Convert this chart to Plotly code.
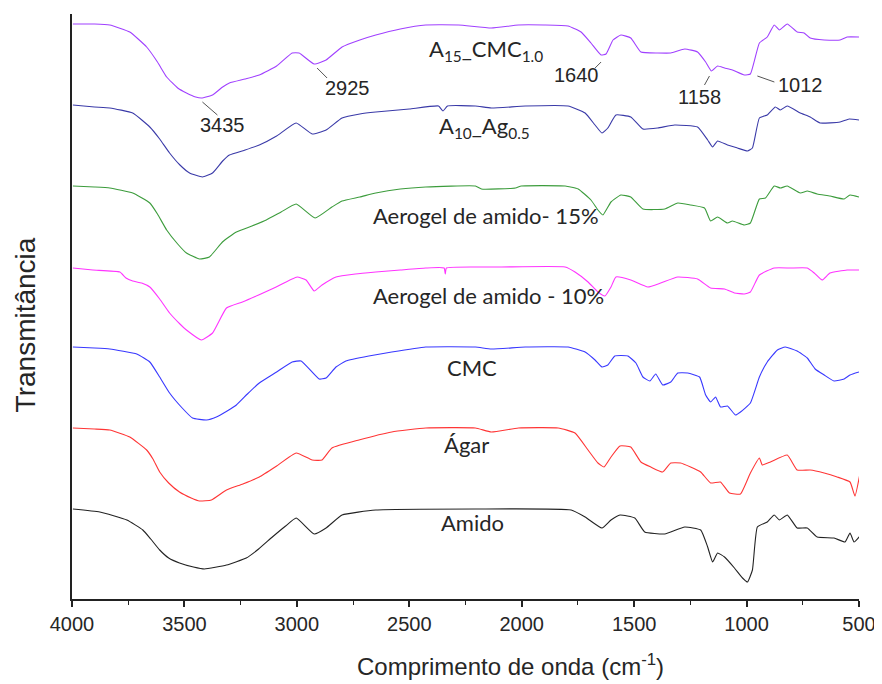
import plotly.graph_objects as go

# ---- data (wavenumber cm-1, stacked transmittance in arbitrary units) ----
a15_wn = [3996, 3900, 3832, 3743, 3668, 3620, 3579, 3530, 3491, 3450, 3424, 3375, 3330, 3300, 3230, 3167, 3090, 3021, 2990, 2923, 2870, 2799, 2720, 2649, 2540, 2427, 2281, 2135, 2015, 1900, 1794, 1736, 1692, 1647, 1625, 1594, 1559, 1515, 1470, 1395, 1337, 1275, 1218, 1182, 1156, 1129, 1098, 1063, 1010, 983, 943, 908, 877, 854, 819, 775, 744, 717, 655, 584, 553, 500]
a15_t = [575, 575, 574, 567, 552, 537, 522, 511, 506, 502, 501, 504, 512, 516, 520, 524, 533, 546, 546, 535, 539, 552, 559, 564, 570, 574, 574, 571, 574, 574, 573, 567, 556, 544, 545, 559, 564, 561, 547, 546, 546, 550, 547, 537, 528, 533, 531, 529, 524, 525, 556, 562, 574, 569, 575, 567, 566, 561, 559, 559, 562, 562]

a10_wn = [3996, 3900, 3832, 3730, 3654, 3610, 3566, 3520, 3477, 3420, 3375, 3330, 3300, 3230, 3167, 3090, 3003, 2932, 2870, 2799, 2720, 2649, 2500, 2370, 2350, 2330, 2206, 2135, 1984, 1794, 1718, 1674, 1643, 1617, 1581, 1515, 1461, 1395, 1320, 1218, 1173, 1151, 1129, 1085, 1041, 996, 974, 943, 908, 872, 850, 819, 761, 717, 673, 584, 544, 500]
a10_t = [494, 492, 491, 486, 472, 460, 446, 434, 426, 422, 426, 438, 444, 449, 454, 463, 476, 465, 469, 481, 485, 487, 490, 493, 488, 493, 493, 491, 493, 493, 486, 474, 466, 471, 484, 482, 470, 471, 474, 472, 459, 452, 458, 454, 451, 448, 451, 481, 484, 492, 489, 493, 486, 482, 476, 477, 480, 479]

ae15_wn = [3996, 3900, 3832, 3730, 3654, 3620, 3579, 3530, 3491, 3433, 3389, 3331, 3269, 3200, 3136, 3070, 3003, 2919, 2844, 2799, 2720, 2649, 2540, 2427, 2206, 2179, 2028, 2002, 1807, 1749, 1692, 1661, 1639, 1603, 1559, 1515, 1461, 1364, 1306, 1249, 1187, 1160, 1129, 1085, 1063, 1010, 983, 943, 916, 877, 850, 819, 761, 730, 686, 629, 566, 540, 500]
ae15_t = [413, 412, 411, 406, 396, 385, 369, 355, 346, 340, 342, 357, 367, 373, 379, 387, 395, 381, 392, 398, 402, 406, 410, 412, 413, 410, 411, 413, 413, 410, 399, 389, 384, 397, 404, 402, 390, 390, 396, 394, 391, 378, 382, 376, 378, 374, 376, 400, 401, 413, 411, 413, 406, 408, 405, 403, 400, 404, 402]

ae10_wn = [3996, 3907, 3787, 3760, 3730, 3690, 3654, 3610, 3566, 3520, 3491, 3424, 3375, 3313, 3242, 3170, 3092, 2999, 2959, 2923, 2888, 2826, 2740, 2649, 2540, 2427, 2345, 2340, 2335, 2206, 2090, 1807, 1763, 1705, 1661, 1630, 1603, 1581, 1515, 1439, 1382, 1306, 1218, 1160, 1098, 1054, 1010, 983, 943, 877, 806, 730, 699, 664, 629, 553, 500]
ae10_t = [331, 329, 327, 321, 318, 316, 312, 300, 286, 275, 269, 259, 266, 291, 297, 304, 312, 322, 319, 308, 314, 322, 325, 327, 329, 331, 331, 325, 331, 332, 332, 332, 327, 317, 307, 303, 312, 322, 319, 312, 316, 322, 320, 311, 310, 306, 305, 307, 324, 331, 331, 331, 326, 319, 326, 329, 329]

cmc_wn = [3996, 3900, 3832, 3712, 3654, 3610, 3566, 3510, 3464, 3402, 3358, 3310, 3269, 3220, 3167, 3090, 3021, 2981, 2901, 2870, 2826, 2782, 2680, 2578, 2427, 2206, 2135, 1984, 1794, 1718, 1674, 1643, 1617, 1586, 1528, 1492, 1461, 1430, 1404, 1373, 1337, 1306, 1262, 1209, 1182, 1160, 1138, 1116, 1085, 1049, 1027, 983, 943, 908, 863, 828, 775, 730, 695, 655, 611, 566, 540, 500]
cmc_t = [252, 251, 250, 245, 237, 222, 206, 191, 181, 179, 182, 188, 194, 205, 216, 227, 237, 238, 220, 221, 232, 238, 243, 247, 252, 252, 250, 252, 252, 247, 239, 232, 234, 243, 243, 236, 222, 218, 225, 214, 217, 226, 226, 222, 204, 197, 202, 192, 193, 184, 187, 196, 222, 237, 249, 252, 248, 241, 230, 224, 218, 220, 224, 227]

agar_wn = [3996, 3900, 3832, 3743, 3668, 3640, 3610, 3570, 3522, 3470, 3433, 3380, 3313, 3240, 3167, 3090, 3003, 2932, 2888, 2844, 2724, 2578, 2427, 2206, 2135, 2015, 1838, 1763, 1705, 1661, 1634, 1603, 1563, 1515, 1470, 1426, 1373, 1337, 1293, 1249, 1204, 1160, 1116, 1076, 1027, 983, 943, 930, 894, 819, 775, 717, 655, 597, 540, 518, 496]
agar_t = [171, 170, 169, 162, 149, 140, 127, 116, 107, 101, 98, 99, 109, 115, 122, 133, 146, 139, 139, 151, 159, 167, 171, 171, 167, 171, 171, 166, 149, 136, 132, 142, 153, 152, 137, 132, 127, 136, 136, 132, 127, 116, 117, 106, 105, 126, 141, 134, 137, 144, 129, 129, 126, 122, 117, 103, 125]

amido_wn = [3996, 3876, 3756, 3685, 3650, 3610, 3570, 3522, 3460, 3411, 3313, 3225, 3170, 3109, 3050, 3003, 2923, 2870, 2799, 2649, 2206, 1780, 1718, 1643, 1603, 1563, 1497, 1453, 1364, 1275, 1204, 1173, 1151, 1129, 1098, 1054, 1018, 996, 974, 952, 908, 877, 854, 819, 775, 730, 686, 611, 562, 540, 522, 496]
amido_t = [90, 87, 79, 69, 60, 49, 41, 36, 32, 30, 34, 41, 50, 62, 73, 81, 65, 71, 84, 89, 90, 89, 82, 71, 79, 84, 81, 67, 65, 72, 69, 52, 37, 46, 42, 31, 21, 17, 29, 72, 77, 84, 79, 84, 71, 71, 62, 61, 57, 66, 57, 63]

series_names = ["A<sub>15</sub>_CMC<sub>1.0</sub>", "A<sub>10</sub>_Ag<sub>0.5</sub>", "Aerogel de amido- 15%",
                "Aerogel de amido - 10%", "CMC", "Ágar", "Amido"]
series_wn = [a15_wn, a10_wn, ae15_wn, ae10_wn, cmc_wn, agar_wn, amido_wn]
series_t = [a15_t, a10_t, ae15_t, ae10_t, cmc_t, agar_t, amido_t]
series_colors = ["#a040ff", "#3a3aa8", "#3c9c3c", "#ff33ff", "#3838ff", "#ff3535", "#222222"]

# label anchor positions (wavenumber, transmittance)
label_wn = [2161, 2166, 2157, 2148, 2223, 2246, 2219]
label_t = [549, 472, 384, 304, 232, 155, 77]

# marked peaks: leader-line start, leader-line pixel vector, text pixel offset
peak_text = ["3435", "2925", "1640", "1158", "1012"]
peak_wn = [3420, 2910, 1647, 1165, 952]
peak_t = [497, 531, 537, 523, 523]
line_dx = [15, 10, -6, -5, 17]
line_dy = [13, 10, 6, 9, 6]
text_dx = [20, 30, -25, -10, 43]
text_dy = [23, 20, 13, 21, 9]

x_ticks = [4000, 3500, 3000, 2500, 2000, 1500, 1000, 500]
x_minor = [3750, 3250, 2750, 2250, 1750, 1250, 750]

fig = go.Figure()
for name, wn, t, c in zip(series_names, series_wn, series_t, series_colors):
    fig.add_trace(go.Scatter(x=wn, y=t, mode="lines", name=name,
                             line=dict(color=c, width=1.1, shape="spline", smoothing=0.4),
                             showlegend=False))

annotations = []
for name, x, y in zip(series_names, label_wn, label_t):
    annotations.append(dict(x=x, y=y, xref="x", yref="y", text=name, showarrow=False,
                            xanchor="center", yanchor="middle",
                            font=dict(family="Lato", size=22, color="#262626")))
shapes = []
for txt, x, y, ldx, ldy, tdx, tdy in zip(peak_text, peak_wn, peak_t, line_dx, line_dy, text_dx, text_dy):
    shapes.append(dict(type="line", xref="x", yref="y", xsizemode="pixel", ysizemode="pixel",
                       xanchor=x, yanchor=y, x0=0, y0=0, x1=ldx, y1=-ldy,
                       line=dict(color="#555555", width=1)))
    annotations.append(dict(x=x, y=y, xref="x", yref="y", text=txt, showarrow=False,
                            xshift=tdx, yshift=-tdy, xanchor="center", yanchor="middle",
                            font=dict(family="Liberation Sans", size=20, color="#262626")))

annotations.append(dict(x=0.557, y=-0.113, xref="paper", yref="paper",
                        xanchor="center", yanchor="middle",
                        text="Comprimento de onda (cm<sup>-1</sup>)", showarrow=False,
                        font=dict(family="Liberation Sans", size=24, color="#262626")))
annotations.append(dict(x=-0.0595, y=0.468, xref="paper", yref="paper",
                        xanchor="center", yanchor="middle",
                        text="Transmitância", showarrow=False, textangle=-90,
                        font=dict(family="Liberation Sans", size=28, color="#262626")))

fig.update_layout(
    width=874, height=676,
    margin=dict(l=64, r=20, t=6, b=85),
    paper_bgcolor="white", plot_bgcolor="white",
    annotations=annotations, shapes=shapes,
    xaxis=dict(range=[4000, 500], tickvals=x_ticks, ticks="outside", ticklen=6, tickwidth=1.5,
               tickcolor="#222", showline=True, linecolor="#222", linewidth=1.5,
               showgrid=False, zeroline=False,
               tickfont=dict(family="Liberation Sans", size=20, color="#262626"),
               minor=dict(tickvals=x_minor, ticks="outside", ticklen=4, tickwidth=1.2,
                          tickcolor="#222")),
    yaxis=dict(range=[0, 585], showline=True, linecolor="#222", linewidth=1.5,
               showticklabels=False, ticks="", showgrid=False, zeroline=False),
)

fig.write_html("out.html")
